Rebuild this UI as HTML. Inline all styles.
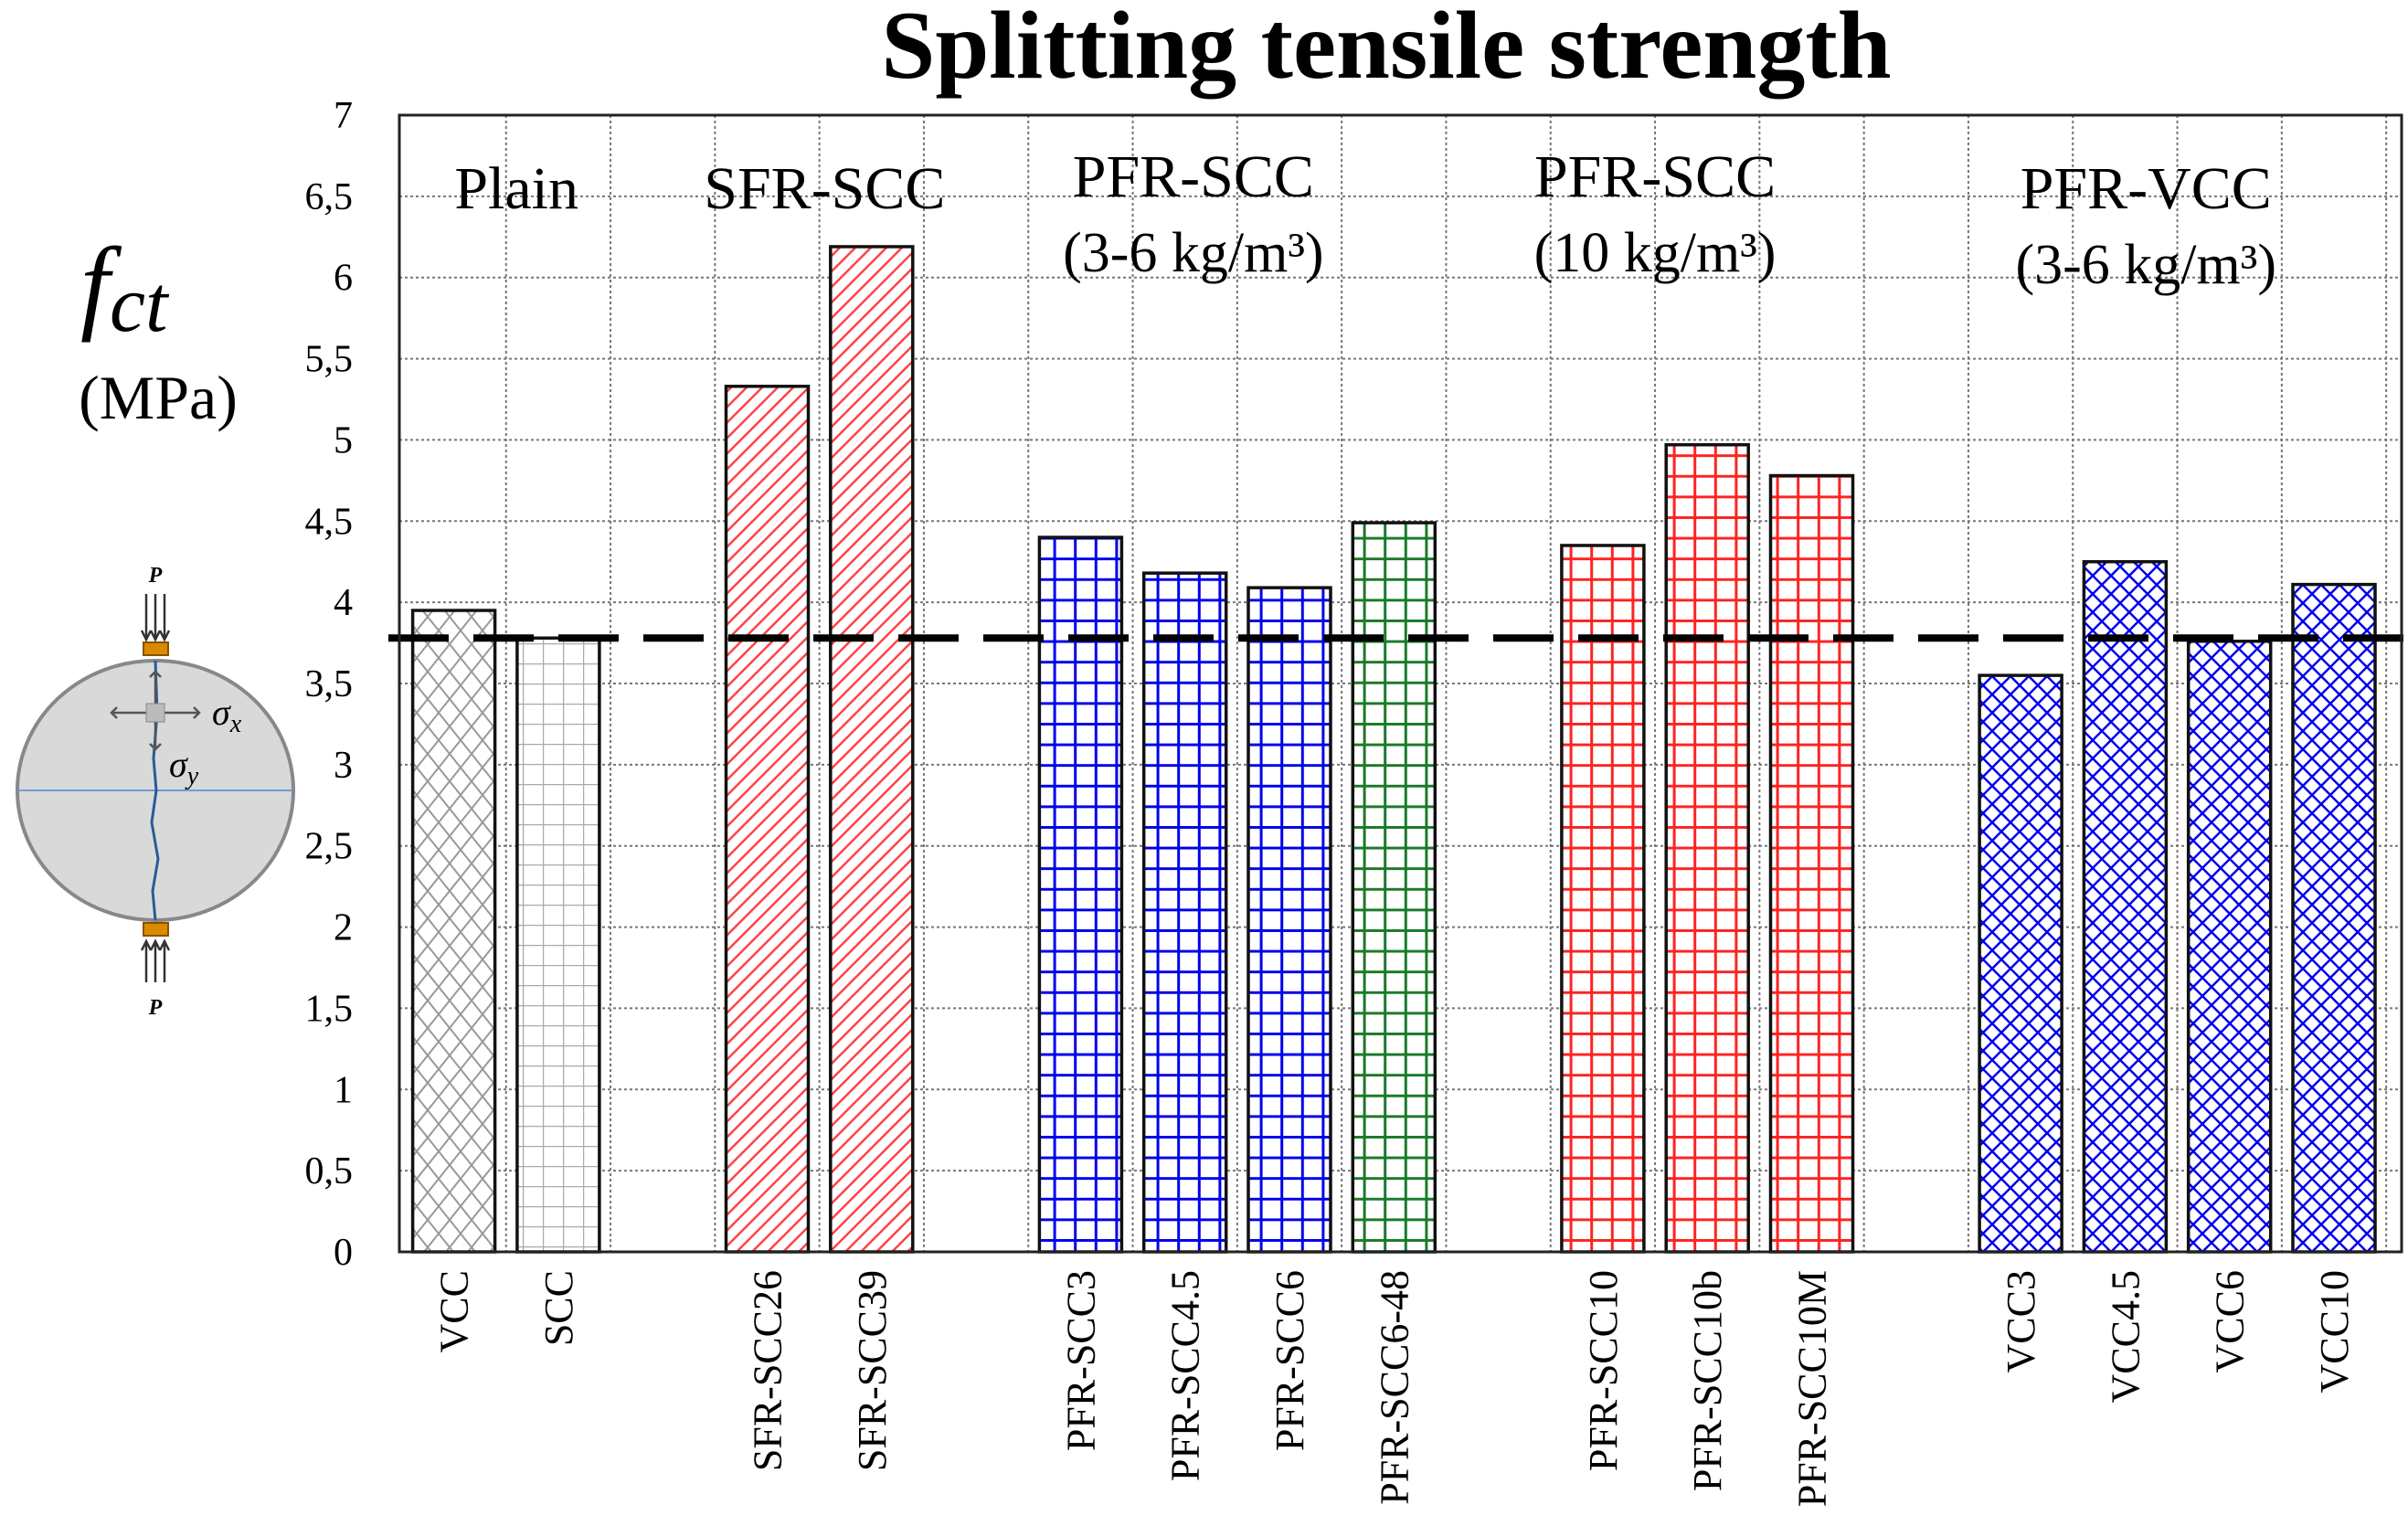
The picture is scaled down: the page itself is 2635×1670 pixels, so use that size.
<!DOCTYPE html>
<html><head><meta charset="utf-8"><style>
html,body{margin:0;padding:0;background:#fff;}
svg{display:block;font-family:"Liberation Serif",serif;}
</style></head><body>
<svg id="chart" width="2635" height="1670" viewBox="0 0 2635 1670" xmlns="http://www.w3.org/2000/svg">
<defs>
<pattern id="p-vcc" patternUnits="userSpaceOnUse" width="24" height="30"><path d="M0 0 L24 30 M24 0 L0 30" stroke="#999" stroke-width="2" fill="none"/></pattern>
<pattern id="p-scc" patternUnits="userSpaceOnUse" width="22" height="22"><path d="M0 0 H22 M0 0 V22" stroke="#aaa" stroke-width="2.5" fill="none"/></pattern>
<pattern id="p-sfr" patternUnits="userSpaceOnUse" width="17" height="17"><path d="M-4 21 L21 -4 M-4 4 L4 -4 M13 21 L21 13" stroke="#f44" stroke-width="2.5" fill="none"/></pattern>
<pattern id="p-blue" patternUnits="userSpaceOnUse" width="22.6" height="22.6"><path d="M0 1.5 H22.6 M1.5 0 V22.6" stroke="#0000ee" stroke-width="3" fill="none"/></pattern>
<pattern id="p-green" patternUnits="userSpaceOnUse" width="22.6" height="22.6"><path d="M0 1.5 H22.6 M1.5 0 V22.6" stroke="#1a7a2a" stroke-width="3" fill="none"/></pattern>
<pattern id="p-red" patternUnits="userSpaceOnUse" width="22.6" height="22.6"><path d="M0 1.5 H22.6 M1.5 0 V22.6" stroke="#f22" stroke-width="3" fill="none"/></pattern>
<pattern id="p-vx" patternUnits="userSpaceOnUse" width="20" height="20"><path d="M0 0 L20 20 M20 0 L0 20" stroke="#0000ee" stroke-width="2.5" fill="none"/></pattern>
</defs>
<g id="grid"></g><g id="bars"></g><g id="axes"></g><g id="labels"></g>
<text x="1517" y="85" font-size="106" font-weight="bold" text-anchor="middle">Splitting tensile strength</text>
<text x="88" y="350" font-size="115" font-style="italic" font-family="Liberation Serif,serif">f<tspan font-size="88" dy="12">ct</tspan></text>
<text x="173" y="458" font-size="68" text-anchor="middle">(MPa)</text>
<g>
<ellipse cx="170" cy="865" rx="151" ry="142" fill="#d9d9d9" stroke="#888" stroke-width="4"/>
<line x1="20" y1="865" x2="320" y2="865" stroke="#6f9ed0" stroke-width="2"/>
<path d="M170 723 L172 780 L168 830 L171 865 L166 900 L173 940 L167 975 L170 1007" stroke="#2a5a9a" stroke-width="3" fill="none"/>
<rect x="157" y="703" width="27" height="14" fill="#d98a00" stroke="#8a5000" stroke-width="2"/>
<rect x="157" y="1010" width="27" height="14" fill="#d98a00" stroke="#8a5000" stroke-width="2"/>
<path d="M160 650 V700 M170 650 V700 M180 650 V700 M155 690 L160 700 L165 690 M165 690 L170 700 L175 690 M175 690 L180 700 L185 690" stroke="#333" stroke-width="2.5" fill="none"/>
<path d="M160 1030 V1075 M170 1030 V1075 M180 1030 V1075 M155 1040 L160 1030 L165 1040 M165 1040 L170 1030 L175 1040 M175 1040 L180 1030 L185 1040" stroke="#333" stroke-width="2.5" fill="none"/>
<path d="M122 780 H218 M128 774 L122 780 L128 786 M212 774 L218 780 L212 786 M170 735 V820 M164 741 L170 735 L176 741 M164 814 L170 820 L176 814" stroke="#555" stroke-width="2.5" fill="none"/>
<rect x="160" y="770" width="20" height="20" fill="#bbb" stroke="#888"/>
<text x="170" y="637" font-size="24" font-weight="bold" font-style="italic" text-anchor="middle">P</text>
<text x="170" y="1110" font-size="24" font-weight="bold" font-style="italic" text-anchor="middle">P</text>
<text x="232" y="793" font-size="40" font-style="italic">σ<tspan font-size="28" dy="8">x</tspan></text>
<text x="185" y="850" font-size="40" font-style="italic">σ<tspan font-size="28" dy="8">y</tspan></text>
</g>
</svg>
<script>
const categories = ["VCC","SCC","SFR-SCC26","SFR-SCC39","PFR-SCC3","PFR-SCC4.5","PFR-SCC6","PFR-SCC6-48","PFR-SCC10","PFR-SCC10b","PFR-SCC10M","VCC3","VCC4.5","VCC6","VCC10"];
const values = [3.95,3.78,5.33,6.19,4.40,4.18,4.09,4.49,4.35,4.97,4.78,3.55,4.25,3.76,4.11];
const slots = [0,1,3,4,6,7,8,9,11,12,13,15,16,17,18];
const fills = ["p-vcc","p-scc","p-sfr","p-sfr","p-blue","p-blue","p-blue","p-green","p-red","p-red","p-red","p-vx","p-vx","p-vx","p-vx"];
const yTicks = [0,0.5,1,1.5,2,2.5,3,3.5,4,4.5,5,5.5,6,6.5,7];
const yTickLabels = ["0","0,5","1","1,5","2","2,5","3","3,5","4","4,5","5","5,5","6","6,5","7"];
const referenceValue = 3.78;
const groupTitles = ["Plain","SFR-SCC","PFR-SCC","PFR-SCC","PFR-VCC"];
const groupSubtitles = ["","","(3-6 kg/m³)","(10 kg/m³)","(3-6 kg/m³)"];
const groupSlots = [0.6,3.55,7.08,11.5,16.2];

const NS="http://www.w3.org/2000/svg";
const L=437,R=2628,T=126,B=1370,PITCH=114.3,X0=496.6,BW=90;
const y=v=>B-(v/7)*(B-T);
const x=s=>X0+s*PITCH;
function mk(tag,parent,attrs){const e=document.createElementNS(NS,tag);for(const k in attrs)e.setAttribute(k,attrs[k]);parent.appendChild(e);return e;}
const grid=document.getElementById('grid'),bars=document.getElementById('bars'),axes=document.getElementById('axes'),labels=document.getElementById('labels');

yTicks.forEach((t,i)=>{
  if(t>0&&t<7){const g=mk('line',grid,{x1:L,x2:R,y1:y(t),y2:y(t),stroke:'#777','stroke-width':2,'stroke-dasharray':'3 3'});
  
  }
  const tx=mk('text',axes,{x:386,y:y(t)+14,'font-size':42,'text-anchor':'end'});
  tx.textContent=yTickLabels[i];
  
  
});
for(let s=0;s<19;s++){
  const xx=x(s)+PITCH/2;
  if(xx<R-5){const g=mk('line',grid,{x1:xx,x2:xx,y1:T,y2:B,stroke:'#777','stroke-width':2,'stroke-dasharray':'3 3'});
  
  }
}
categories.forEach((c,i)=>{
  const cx=x(slots[i]);
  mk('rect',bars,{x:cx-BW/2,y:y(values[i]),width:BW,height:B-y(values[i]),fill:'#fff',stroke:'none'});
  const r2=mk('rect',bars,{x:cx-BW/2,y:y(values[i]),width:BW,height:B-y(values[i]),fill:'url(#'+fills[i]+')',stroke:'#111','stroke-width':3.5});
  
  
  const t=mk('text',labels,{x:0,y:0,'font-size':44,'text-anchor':'end',transform:'translate('+(cx+15)+','+(B+20)+') rotate(-90)'});
  t.textContent=c;
  
  
});
const ref=mk('line',axes,{x1:425,x2:2635,y1:y(referenceValue),y2:y(referenceValue),stroke:'#000','stroke-width':8,'stroke-dasharray':'66 27'});


const frame=mk('rect',axes,{x:L,y:T,width:R-L,height:B-T,fill:'none',stroke:'#222','stroke-width':3});


groupTitles.forEach((g,i)=>{
  const cx=x(groupSlots[i]);
  const two=groupSubtitles[i]!=="";
  const ty = i===4?228:(two?215:228);
  const t=mk('text',labels,{x:cx,y:ty,'font-size':66,'text-anchor':'middle'});
  t.textContent=g;
  
  
  if(two){const s=mk('text',labels,{x:cx,y:ty+82,'font-size':62,'text-anchor':'middle'});
  s.textContent=groupSubtitles[i];
  
  }
});
</script>
</body></html>
